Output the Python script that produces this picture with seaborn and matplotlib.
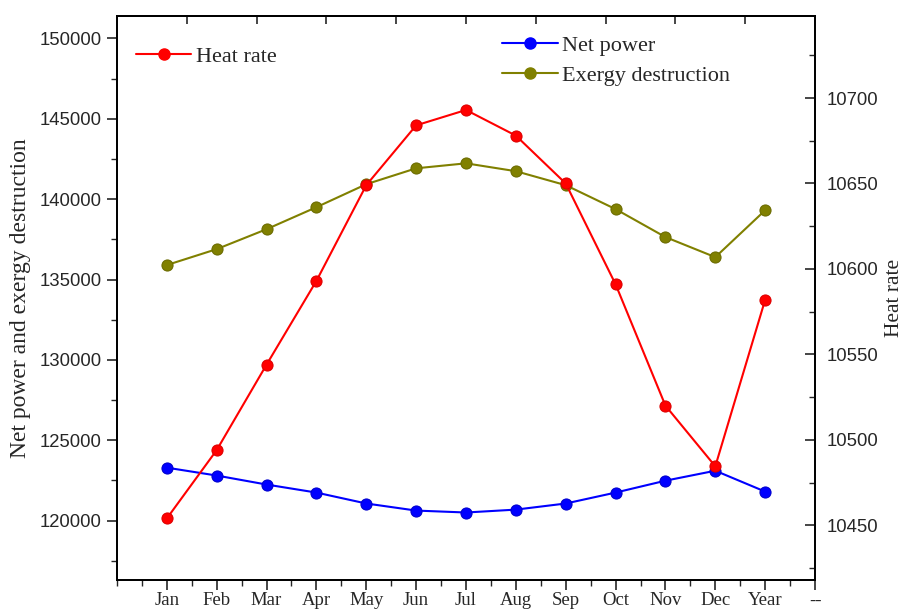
import numpy as np
import pandas as pd
import matplotlib
matplotlib.use("Agg")
import matplotlib.pyplot as plt
from matplotlib.lines import Line2D
from matplotlib.ticker import MultipleLocator
import seaborn as sns

months = ["Jan", "Feb", "Mar", "Apr", "May", "Jun", "Jul", "Aug", "Sep", "Oct", "Nov", "Dec", "Year"]
heat_rate = [10454, 10494, 10544, 10593, 10649, 10684, 10693, 10678, 10650, 10591, 10520, 10484.5, 10582]
net_power = [123290, 122800, 122240, 121740, 121060, 120620, 120500, 120680, 121060, 121740, 122480, 123100, 121800]
exergy_destruction = [135900, 136890, 138130, 139500, 140930, 141920, 142230, 141740, 140870, 139380, 137640, 136390, 139310]
tick_labels = months + ["--"]

sns.set_style("white")
plt.rcParams["font.family"] = ["Liberation Serif", "DejaVu Serif"]

pos = list(range(1, len(months) + 1))
df = pd.DataFrame({"pos": pos, "month": months, "heat": heat_rate,
                   "net": net_power, "exergy": exergy_destruction})

fig = plt.figure(figsize=(9.06, 6.12), dpi=100)
ax = fig.add_axes([0.1291, 0.0523, 0.7705, 0.9216])
ax2 = ax.twinx()

mk = dict(marker="o", markersize=8, linewidth=1.5)
sns.lineplot(data=df, x="pos", y="net", ax=ax, color="#0000FF",
             markeredgecolor="#0000CC", **mk)
sns.lineplot(data=df, x="pos", y="exergy", ax=ax, color="#808000",
             markeredgecolor="#6B6B00", **mk)
sns.lineplot(data=df, x="pos", y="heat", ax=ax2, color="#FF0000",
             markeredgecolor="#DD0000", **mk)

ax.set_xlim(0, 14)
ax.set_ylim(116300, 151400)
ax2.set_ylim(10418, 10748)

ax.set_xticks(range(1, 15))
ax.set_xticklabels(tick_labels, fontsize=13.5)
ax.xaxis.set_minor_locator(MultipleLocator(0.5))
ax.set_yticks(range(120000, 150001, 5000))
ax.yaxis.set_minor_locator(MultipleLocator(2500))
ax2.set_yticks(range(10450, 10701, 50))
ax2.yaxis.set_minor_locator(MultipleLocator(25))

for t in ax.get_yticklabels() + ax2.get_yticklabels():
    t.set_fontfamily("Liberation Sans")
    t.set_fontsize(13.3)

ax.tick_params(axis="x", which="major", direction="out", length=7, width=1.2, pad=2, bottom=True)
ax.tick_params(axis="x", which="minor", direction="out", length=4, width=1.0, bottom=True)
ax.tick_params(axis="y", which="major", direction="out", length=7, width=1.2, pad=4, left=True)
ax.tick_params(axis="y", which="minor", direction="out", length=4, width=1.0, left=True)
ax2.tick_params(axis="y", which="major", direction="in", length=7, width=1.2, pad=8, right=True)
ax2.tick_params(axis="y", which="minor", direction="in", length=4, width=1.0, right=True)

sec = ax.secondary_xaxis("top")
sec.set_xticks([1.4 * k for k in range(1, 10)])
sec.set_xticklabels([])
sec.tick_params(direction="in", length=6, width=1.2)

for a in (ax, ax2):
    for s in a.spines.values():
        s.set_linewidth(1.3)
        s.set_color("black")
sec.spines["top"].set_linewidth(1.3)

ax.set_xlabel("")
ax.set_ylabel("Net power and exergy destruction", fontsize=17, labelpad=6)
ax2.set_ylabel("Heat rate", fontsize=15.5, labelpad=5)

h_heat = Line2D([], [], color="#FF0000", marker="o", markersize=8, linewidth=1.5)
h_net = Line2D([], [], color="#0000FF", marker="o", markersize=8, linewidth=1.5)
h_ex = Line2D([], [], color="#808000", marker="o", markersize=8, linewidth=1.5)

leg1 = ax.legend([h_heat], ["Heat rate"], loc="upper left", bbox_to_anchor=(0.008, 0.97),
                 frameon=False, fontsize=16, handlelength=2.5, handletextpad=0.2,
                 borderaxespad=0.2)
ax.add_artist(leg1)
ax.legend([h_net, h_ex], ["Net power", "Exergy destruction"], loc="upper left",
          bbox_to_anchor=(0.533, 0.99), frameon=False, fontsize=16, handlelength=2.5,
          handletextpad=0.2, labelspacing=0.45, borderaxespad=0.2)

fig.savefig("out.png", dpi=100)
